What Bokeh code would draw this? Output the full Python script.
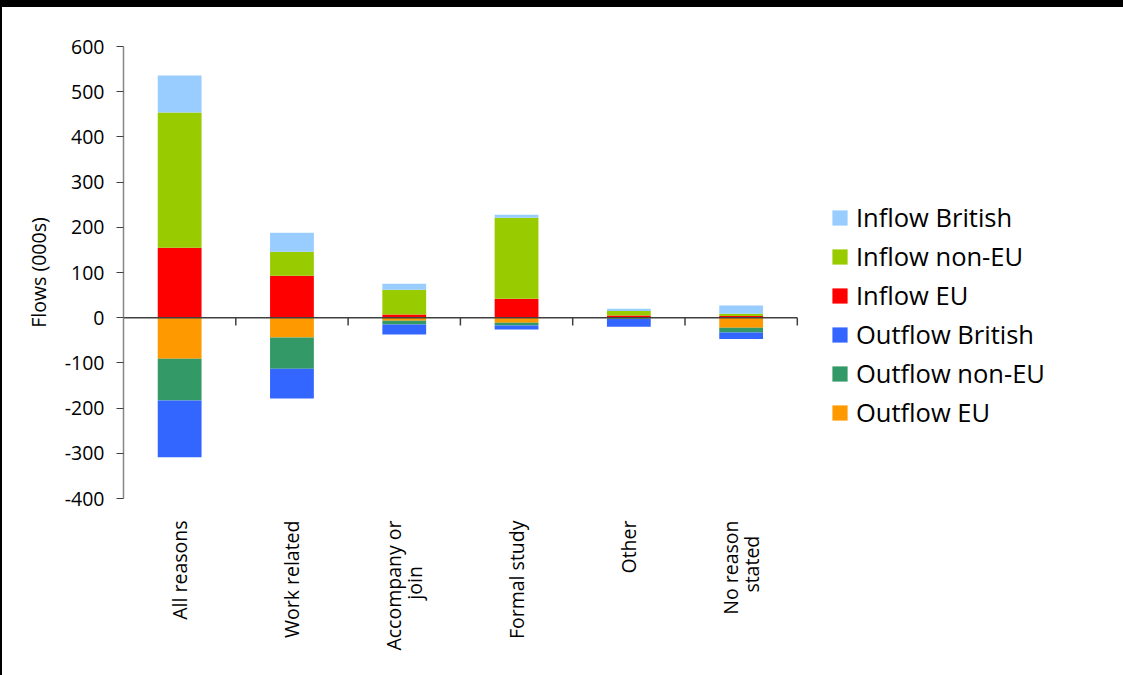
import numpy as np
from bokeh.plotting import figure
from bokeh.models import Range1d, FixedTicker, Legend, LegendItem, Div, ColumnDataSource
from bokeh.layouts import column, row
from bokeh.embed import file_html
from bokeh.resources import INLINE

categories = ["All reasons", "Work related", "Accompany or join", "Formal study", "Other", "No reason stated"]
tick_labels = ["All reasons", "Work related", "Accompany or\njoin" + "\u00a0" * 9, "Formal study", "Other",
               "No reason\nstated" + "\u00a0" * 3]
y_ticks = [-400, -300, -200, -100, 0, 100, 200, 300, 400, 500, 600]

inflow_eu = [155, 93, 7, 42, 5, 4]
inflow_non_eu = [299, 53, 55, 179, 10, 5]
inflow_british = [82, 42, 13, 7, 5, 18]
outflow_eu = [91, 44, 7, 11, 1, 22]
outflow_non_eu = [92, 69, 8, 6, 2, 11]
outflow_british = [126, 66, 22, 9, 17, 14]

colors = {"Inflow British": "#99CCFF", "Inflow non-EU": "#99CC00", "Inflow EU": "#FF0000",
          "Outflow British": "#3366FF", "Outflow non-EU": "#339966", "Outflow EU": "#FF9900"}

n = len(categories)
xs = [i + 0.5 for i in range(n)]
src = ColumnDataSource(dict(
    x=xs,
    ieu=inflow_eu, inon=inflow_non_eu, ibr=inflow_british,
    oeu=[-v for v in outflow_eu], onon=[-v for v in outflow_non_eu], obr=[-v for v in outflow_british],
))

FONT = "Open Sans"
W, H = 1121, 668
px_per_cat = 112.3
frame_w = W - 121
p = figure(width=W, height=H, output_backend="svg", toolbar_location=None,
           x_range=Range1d(0, frame_w / px_per_cat), y_range=Range1d(-400, 600),
           min_border_left=121, min_border_right=0, min_border_top=39, min_border_bottom=177,
           margin=0)
p.outline_line_color = None
p.xgrid.visible = False
p.ygrid.visible = False
p.background_fill_color = "white"
p.border_fill_color = "white"

pos = p.vbar_stack(["ieu", "inon", "ibr"], x="x", width=0.39, source=src,
                   fill_color=[colors["Inflow EU"], colors["Inflow non-EU"], colors["Inflow British"]],
                   line_color=None)
neg = p.vbar_stack(["oeu", "onon", "obr"], x="x", width=0.39, source=src,
                   fill_color=[colors["Outflow EU"], colors["Outflow non-EU"], colors["Outflow British"]],
                   line_color=None)

# zero line and category separator ticks
p.segment(x0=[0], y0=[0], x1=[n], y1=[0], line_color="#404040", line_width=1.5)
p.segment(x0=list(range(1, n + 1)), y0=[0] * n, x1=list(range(1, n + 1)), y1=[-17] * n,
          line_color="#404040", line_width=1.5)

legend = Legend(items=[
    LegendItem(label="Inflow British", renderers=[pos[2]]),
    LegendItem(label="Inflow non-EU", renderers=[pos[1]]),
    LegendItem(label="Inflow EU", renderers=[pos[0]]),
    LegendItem(label="Outflow British", renderers=[neg[2]]),
    LegendItem(label="Outflow non-EU", renderers=[neg[1]]),
    LegendItem(label="Outflow EU", renderers=[neg[0]]),
], location=(707, 69))
legend.border_line_color = None
legend.background_fill_alpha = 0
legend.padding = 0
legend.margin = 0
legend.spacing = 5
legend.glyph_width = 19
legend.glyph_height = 19
legend.label_height = 25
legend.label_standoff = 7
legend.label_text_font = FONT
legend.label_text_font_size = "25.5px"
legend.label_text_color = "black"
p.add_layout(legend)

# x axis (category labels)
p.xaxis.ticker = FixedTicker(ticks=xs)
p.xaxis.major_label_overrides = {x: lab for x, lab in zip(xs, tick_labels)}
p.xaxis.major_label_orientation = np.pi / 2
p.xaxis.axis_line_color = None
p.xaxis.major_tick_line_color = None
p.xaxis.minor_tick_line_color = None
p.xaxis.major_label_standoff = 16
p.xaxis.major_label_text_font = FONT
p.xaxis.major_label_text_font_size = "19.5px"
p.xaxis.major_label_text_line_height = 0.78
p.xaxis.major_label_text_color = "black"

# y axis
p.yaxis.ticker = FixedTicker(ticks=y_ticks)
p.yaxis.major_label_overrides = {v: str(v) for v in y_ticks}
p.yaxis.axis_label = "Flows (000s)"
p.yaxis.axis_label_text_font = FONT
p.yaxis.axis_label_text_font_style = "normal"
p.yaxis.axis_label_text_font_size = "19.5px"
p.yaxis.axis_label_text_color = "black"
p.yaxis.axis_label_standoff = 10
p.yaxis.major_label_text_font = FONT
p.yaxis.major_label_text_font_size = "19.5px"
p.yaxis.major_label_text_color = "black"
p.yaxis.major_label_standoff = 12
p.yaxis.major_tick_in = 0
p.yaxis.major_tick_out = 7
p.yaxis.major_tick_line_color = "#404040"
p.yaxis.minor_tick_line_color = None
p.yaxis.axis_line_color = "#868686"
p.yaxis.axis_line_width = 1.5

top_band = Div(width=1123, height=7, margin=0, styles={"background-color": "black"})
left_band = Div(width=2, height=H, margin=0, styles={"background-color": "black"})
layout = column(top_band, row(left_band, p, spacing=0, margin=0), spacing=0, margin=0)

open("out.html", "w").write(file_html(layout, INLINE))
